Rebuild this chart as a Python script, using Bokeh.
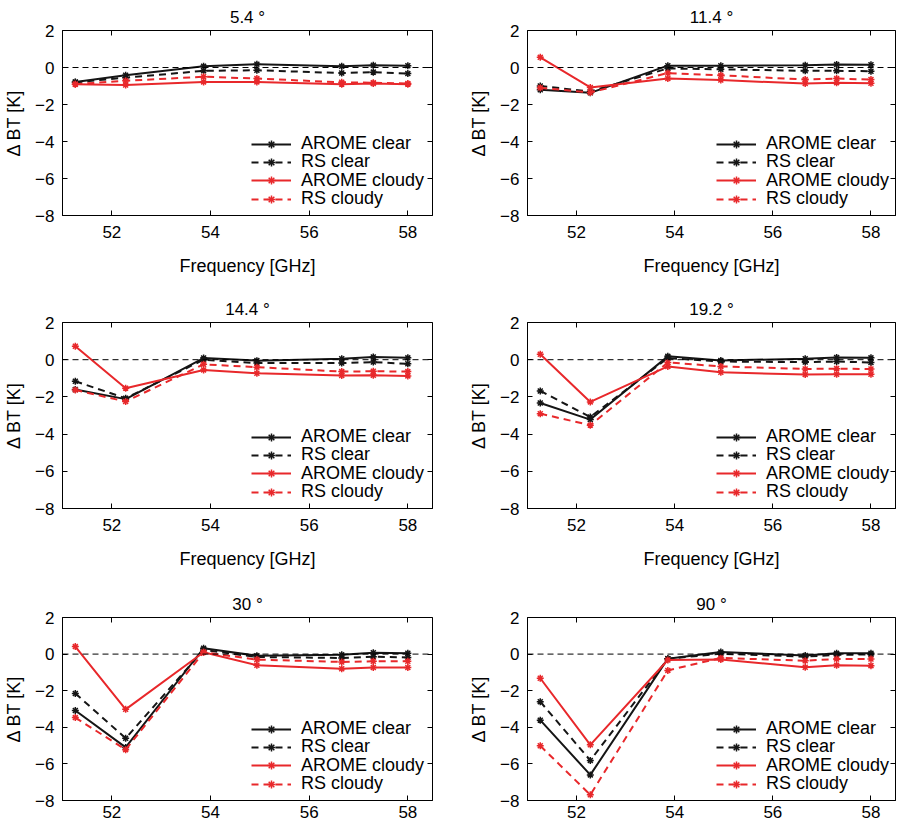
from bokeh.plotting import figure
from bokeh.models import Range1d, LinearAxis, FixedTicker, Span, Legend, LegendItem
from bokeh.layouts import column, row
from bokeh.embed import file_html
from bokeh.resources import INLINE

# ---- data -------------------------------------------------------------
freq = [51.26, 52.28, 53.86, 54.94, 56.66, 57.30, 58.00]
titles = ["5.4 °", "11.4 °", "14.4 °", "19.2 °", "30 °", "90 °"]
series_names = ["AROME clear", "RS clear", "AROME cloudy", "RS cloudy"]

arome_clear_5_4 = [-0.78, -0.42, 0.07, 0.18, 0.07, 0.12, 0.10]
rs_clear_5_4 = [-0.80, -0.55, -0.18, -0.15, -0.30, -0.25, -0.33]
arome_cloudy_5_4 = [-0.90, -0.95, -0.78, -0.78, -0.90, -0.87, -0.90]
rs_cloudy_5_4 = [-0.90, -0.72, -0.50, -0.60, -0.80, -0.82, -0.87]

arome_clear_11_4 = [-1.20, -1.37, 0.10, 0.10, 0.12, 0.16, 0.15]
rs_clear_11_4 = [-1.00, -1.30, -0.05, -0.10, -0.18, -0.18, -0.20]
arome_cloudy_11_4 = [0.55, -1.08, -0.60, -0.68, -0.87, -0.82, -0.85]
rs_cloudy_11_4 = [-1.10, -1.35, -0.30, -0.42, -0.65, -0.60, -0.65]

arome_clear_14_4 = [-1.60, -2.12, 0.09, -0.05, 0.05, 0.15, 0.10]
rs_clear_14_4 = [-1.16, -2.07, 0.00, -0.18, -0.18, -0.13, -0.22]
arome_cloudy_14_4 = [0.72, -1.53, -0.55, -0.73, -0.85, -0.84, -0.87]
rs_cloudy_14_4 = [-1.63, -2.25, -0.25, -0.40, -0.64, -0.62, -0.64]

arome_clear_19_2 = [-2.33, -3.22, 0.18, -0.04, 0.05, 0.12, 0.10]
rs_clear_19_2 = [-1.68, -3.08, 0.09, -0.10, -0.13, -0.10, -0.15]
arome_cloudy_19_2 = [0.29, -2.27, -0.36, -0.68, -0.80, -0.78, -0.78]
rs_cloudy_19_2 = [-2.90, -3.52, -0.15, -0.36, -0.50, -0.48, -0.50]

arome_clear_30 = [-3.08, -5.10, 0.32, -0.09, -0.04, 0.07, 0.05]
rs_clear_30 = [-2.15, -4.60, 0.23, -0.16, -0.21, -0.14, -0.18]
arome_cloudy_30 = [0.41, -3.02, 0.10, -0.61, -0.80, -0.73, -0.73]
rs_cloudy_30 = [-3.47, -5.22, 0.10, -0.30, -0.43, -0.39, -0.39]

arome_clear_90 = [-3.61, -6.60, -0.25, 0.11, -0.07, 0.04, 0.05]
rs_clear_90 = [-2.60, -5.81, -0.25, 0.02, -0.14, -0.04, -0.02]
arome_cloudy_90 = [-1.32, -4.96, -0.32, -0.30, -0.72, -0.61, -0.63]
rs_cloudy_90 = [-5.01, -7.69, -0.89, -0.21, -0.36, -0.27, -0.27]

x_ticks = [52, 54, 56, 58]
y_ticks = [-8, -6, -4, -2, 0, 2]
y_tick_labels = {-8: "\u22128", -6: "\u22126", -4: "\u22124", -2: "\u22122", 0: "0", 2: "2"}

panels = [
    [arome_clear_5_4, rs_clear_5_4, arome_cloudy_5_4, rs_cloudy_5_4],
    [arome_clear_11_4, rs_clear_11_4, arome_cloudy_11_4, rs_cloudy_11_4],
    [arome_clear_14_4, rs_clear_14_4, arome_cloudy_14_4, rs_cloudy_14_4],
    [arome_clear_19_2, rs_clear_19_2, arome_cloudy_19_2, rs_cloudy_19_2],
    [arome_clear_30, rs_clear_30, arome_cloudy_30, rs_cloudy_30],
    [arome_clear_90, rs_clear_90, arome_cloudy_90, rs_cloudy_90],
]

# ---- style -------------------------------------------------------------
FONT = "Liberation Sans"
BLACK = "#151515"
RED = "#e8282b"
styles = [
    dict(color=BLACK, dash="solid"),
    dict(color=BLACK, dash="7 5"),
    dict(color=RED, dash="solid"),
    dict(color=RED, dash="7 5"),
]

col_borders = [dict(left=62, width=370, right=30), dict(left=65, width=368, right=2)]
row_borders = [dict(top=30, height=185, bottom=77, tick_standoff=10),
               dict(top=30, height=186, bottom=79, tick_standoff=10),
               dict(top=30, height=183, bottom=26, tick_standoff=5)]
# legend entry placement (screen px from frame's bottom-left corner)
LEG_X = 189
LEG_ROW_H = 20
LEG_CENTERS = [71, 52.7, 34.3, 16]


def make_panel(idx):
    r, c = divmod(idx, 2)
    cb, rb = col_borders[c], row_borders[r]
    p = figure(frame_width=cb["width"], frame_height=rb["height"],
               min_border_left=cb["left"], min_border_right=cb["right"],
               min_border_top=rb["top"], min_border_bottom=rb["bottom"],
               x_range=Range1d(51, 58.5), y_range=Range1d(-8, 2),
               output_backend="svg", toolbar_location=None, tools="",
               title=titles[idx])
    p.background_fill_color = "white"
    p.border_fill_color = "white"
    p.outline_line_color = "black"
    p.outline_line_width = 1
    p.grid.visible = False

    p.title.align = "center"
    p.title.text_font = FONT
    p.title.text_font_size = "17px"
    p.title.text_font_style = "normal"
    p.title.text_color = "black"
    p.title.standoff = 8

    for ax in (p.xaxis[0], p.yaxis[0]):
        ax.major_tick_in = 5
        ax.major_tick_out = 0
        ax.minor_tick_line_color = None
        ax.axis_line_color = "black"
        ax.major_tick_line_color = "black"
        ax.major_label_text_font = FONT
        ax.major_label_text_font_size = "17px"
        ax.major_label_text_color = "black"
        ax.axis_label_text_font = FONT
        ax.axis_label_text_font_size = "18px"
        ax.axis_label_text_font_style = "normal"
        ax.axis_label_text_color = "black"
    p.xaxis[0].ticker = FixedTicker(ticks=x_ticks)
    p.yaxis[0].ticker = FixedTicker(ticks=y_ticks)
    p.yaxis[0].major_label_overrides = y_tick_labels
    p.xaxis[0].major_label_standoff = rb["tick_standoff"]
    p.yaxis[0].major_label_standoff = 8
    p.yaxis[0].axis_label = "\u0394 BT [K]"
    p.yaxis[0].axis_label_standoff = 8
    if r < 2:
        p.xaxis[0].axis_label = "Frequency [GHz]"
        p.xaxis[0].axis_label_standoff = 15

    top = LinearAxis(ticker=FixedTicker(ticks=x_ticks), major_tick_in=5, major_tick_out=0,
                     minor_tick_line_color=None, axis_line_color=None,
                     major_label_text_font_size="1px", major_label_text_color=None,
                     major_label_standoff=0)
    right = LinearAxis(ticker=FixedTicker(ticks=y_ticks), major_tick_in=5, major_tick_out=0,
                       minor_tick_line_color=None, axis_line_color=None,
                       major_label_text_font_size="1px", major_label_text_color=None,
                       major_label_standoff=0)
    p.add_layout(top, "above")
    p.add_layout(right, "right")

    p.add_layout(Span(location=0, dimension="width", line_color="black",
                      line_width=1, line_dash="6 4"))

    items = []
    for vals, name, st in zip(panels[idx], series_names, styles):
        ln = p.line(freq, vals, line_color=st["color"], line_width=2,
                    line_dash=st["dash"])
        sc = p.scatter(freq, vals, marker="asterisk", size=7, line_color=st["color"],
                       line_width=1.5)
        items.append(LegendItem(label=name, renderers=[ln, sc]))

    for item, cy in zip(items, LEG_CENTERS):
        lg = Legend(items=[item], location=(LEG_X, cy - LEG_ROW_H / 2),
                    border_line_color=None, background_fill_alpha=0,
                    label_text_font=FONT, label_text_font_size="18px",
                    label_text_color="black", glyph_width=40,
                    glyph_height=LEG_ROW_H, label_height=LEG_ROW_H,
                    label_standoff=10, spacing=0, padding=0, margin=0)
        p.add_layout(lg)
    return p


figs = [make_panel(i) for i in range(6)]
layout = column(row(figs[0], figs[1]), row(figs[2], figs[3]), row(figs[4], figs[5]))

open("out.html", "w").write(file_html(layout, INLINE))
